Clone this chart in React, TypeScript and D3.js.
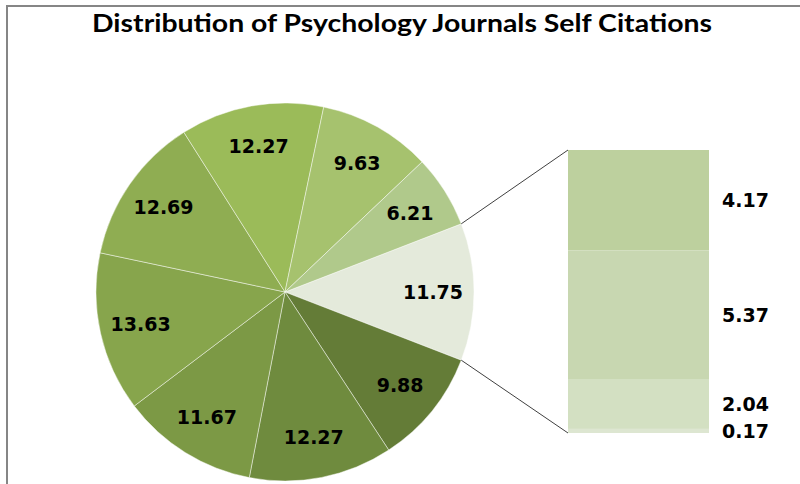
import * as d3 from "d3"

// pie slices, clockwise starting with the "other" slice that is split into the bar
const pieLabels = ["11.75", "9.88", "12.27", "11.67", "13.63", "12.69", "12.27", "9.63", "6.21"]
const pieValues = [11.75, 9.88, 12.27, 11.67, 13.63, 12.69, 12.27, 9.63, 6.21]
const pieColors = ["#e4eadb", "#647c37", "#6f8b3e", "#7c9945", "#87a54c", "#8fad52", "#9bbb59", "#a6c26e", "#b0c98b"]

// the bar on the right (top to bottom)
const barLabels = ["4.17", "5.37", "2.04", "0.17"]
const barValues = [4.17, 5.37, 2.04, 0.17]
const barColors = ["#bdd09e", "#c8d7b1", "#d3e0c2", "#dde6d1"]

const title = "Distribution of Psychology Journals Self Citations"

const W = 800
const H = 484
const cx = 285
const cy = 292
const R = 189

const App = () => {
  const total = d3.sum(pieValues)
  const otherAngle = (pieValues[0] / total) * 2 * Math.PI
  const start = Math.PI / 2 - otherAngle / 2

  const pie = d3
    .pie<number>()
    .sort(null)
    .value((d) => d)
    .startAngle(start)
    .endAngle(start + 2 * Math.PI)
  const arcs = pie(pieValues)
  const arc = d3.arc<d3.PieArcDatum<number>>().innerRadius(0).outerRadius(R)
  const labelArc = d3.arc<d3.PieArcDatum<number>>().innerRadius(148).outerRadius(148)

  // bar scale
  const barX0 = 568
  const barX1 = 709
  const y = d3.scaleLinear().domain([0, d3.sum(barValues)]).range([150, 433])
  const cum = barValues.map((_, i) => d3.sum(barValues.slice(0, i)))

  // connector points on the pie edge
  const a0 = arcs[0].startAngle
  const a1 = arcs[0].endAngle
  const p0 = [cx + R * Math.sin(a0), cy - R * Math.cos(a0)]
  const p1 = [cx + R * Math.sin(a1), cy - R * Math.cos(a1)]

  const labelFont = "'DejaVu Sans', Verdana, sans-serif"

  return (
    <svg width={W} height={H} style={{ position: "absolute", left: 0, top: 0, background: "#fff" }}>
      <line x1={7} y1={6} x2={W} y2={6} stroke="#868686" strokeWidth={2} />
      <line x1={7} y1={5} x2={7} y2={H} stroke="#868686" strokeWidth={2} />

      <text
        x={92}
        y={32}
        textLength={620}
        lengthAdjust="spacingAndGlyphs"
        fontFamily="Lato, 'Open Sans', sans-serif"
        fontWeight="bold"
        fontSize={25}
        fill="#000"
      >
        {title}
      </text>

      <g transform={`translate(${cx},${cy})`}>
        {arcs.map((a, i) => (
          <path key={i} d={arc(a) || ""} fill={pieColors[i]} stroke="#ffffff" strokeOpacity={0.45} strokeWidth={1} />
        ))}
        {arcs.map((a, i) => {
          const [lx, ly] = labelArc.centroid(a)
          return (
            <text key={i} x={lx} y={ly} dy="0.36em" textAnchor="middle" fontFamily={labelFont} fontWeight="bold" fontSize={19} fill="#000">
              {pieLabels[i]}
            </text>
          )
        })}
      </g>

      <line x1={p0[0]} y1={p0[1]} x2={barX0} y2={y(0)} stroke="#404040" strokeWidth={1} />
      <line x1={p1[0]} y1={p1[1]} x2={barX0} y2={y(d3.sum(barValues))} stroke="#404040" strokeWidth={1} />

      {barValues.map((v, i) => (
        <rect key={i} x={barX0} y={y(cum[i])} width={barX1 - barX0} height={y(cum[i] + v) - y(cum[i])} fill={barColors[i]} />
      ))}
      {barValues.map((v, i) => (
        <text key={i} x={722} y={(y(cum[i]) + y(cum[i] + v)) / 2} dy="0.36em" fontFamily={labelFont} fontWeight="bold" fontSize={19} fill="#000">
          {barLabels[i]}
        </text>
      ))}
    </svg>
  )
}

export default App
